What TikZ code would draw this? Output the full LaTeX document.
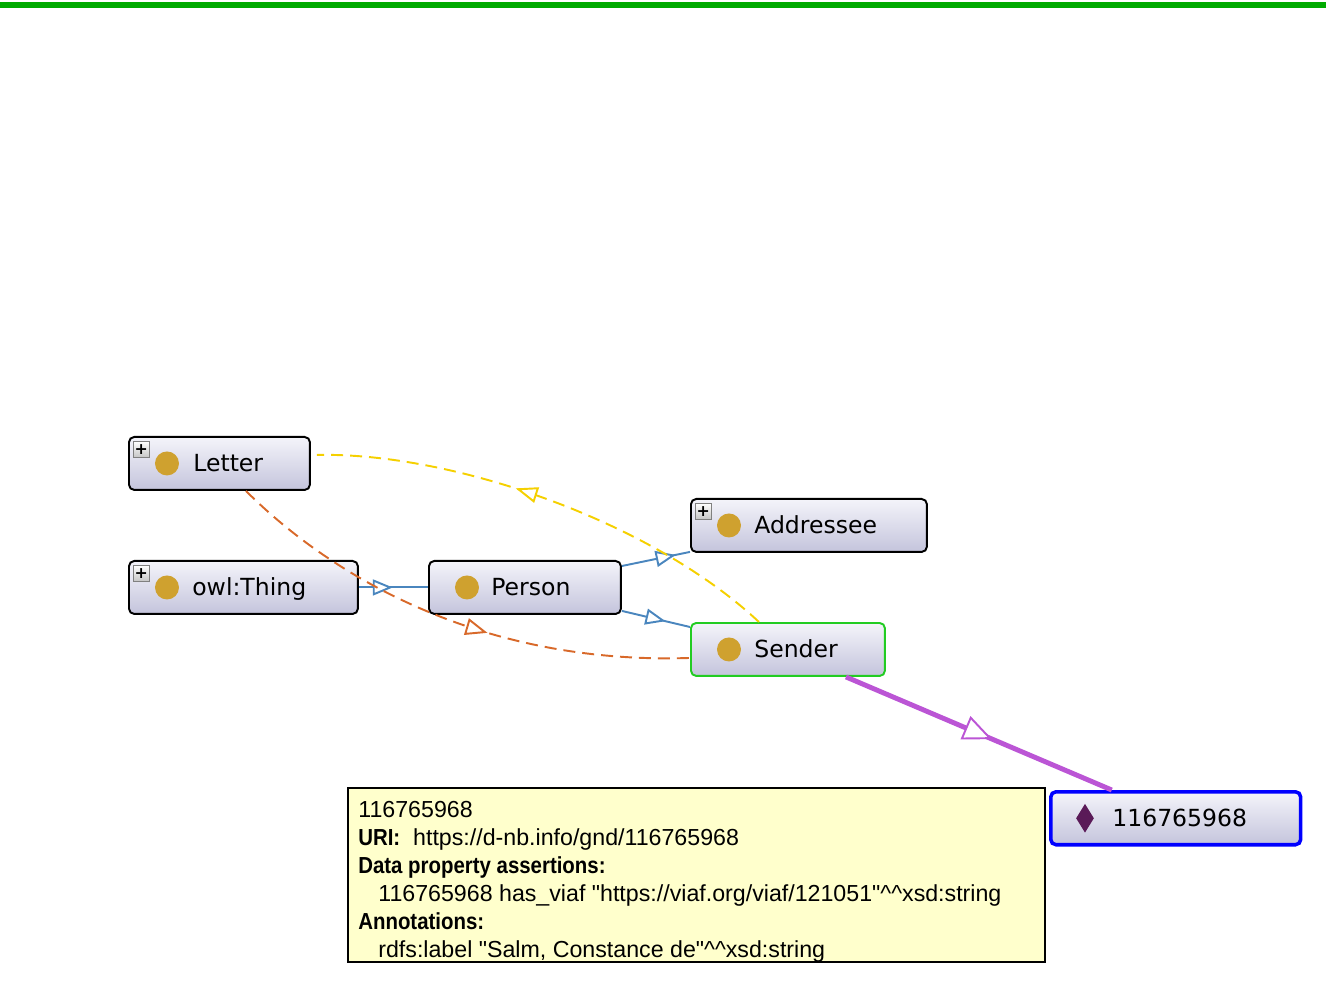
\documentclass[tikz,border=0pt]{standalone}
\usepackage{fontspec}
\setmainfont{DejaVu Sans}
\newfontfamily\tipfont[BoldFeatures={FakeStretch=0.88}]{Liberation Sans}
\usetikzlibrary{arrows.meta,decorations.markings,shapes.geometric}
\definecolor{ogGreen}{HTML}{00AA00}
\definecolor{ogDot}{HTML}{CFA12F}
\definecolor{ogTop}{HTML}{F4F4FA}
\definecolor{ogBottom}{HTML}{C4C4DC}
\definecolor{ogBlue}{HTML}{4A86BE}
\definecolor{ogOrange}{HTML}{D8692A}
\definecolor{ogYellow}{HTML}{F5D000}
\definecolor{ogPurple}{HTML}{BB55D5}
\definecolor{ogSel}{HTML}{22CC22}
\definecolor{ogTip}{HTML}{FFFFCC}
\definecolor{ogGem}{HTML}{5A1A58}

\tikzset{
  classbox/.style={rectangle, rounded corners=3pt, draw=black, line width=1.1pt,
    top color=ogTop, bottom color=ogBottom, minimum height=1.06cm,
    anchor=north west, inner sep=0pt},
  dotmark/.style={circle, fill=ogDot, minimum size=0.48cm, inner sep=0pt},
  plusbox/.style={rectangle, draw=gray, line width=0.4pt, top color=white,
    bottom color=gray!45, minimum size=0.32cm, inner sep=0pt,
    anchor=north west, font=\bfseries\fontsize{9}{9}\selectfont},
  classlabel/.style={anchor=base west, inner sep=0pt,
    font=\fontsize{13.4}{16}\selectfont},
  subcls/.style={ogBlue, line width=1.1pt},
  domlink/.style={ogOrange, line width=1.1pt, dash pattern=on 0.24cm off 0.14cm},
  rnglink/.style={ogYellow, line width=1.1pt, dash pattern=on 0.24cm off 0.14cm},
  typelink/.style={ogPurple, line width=2.8pt},
  tipat/.style 2 args={postaction={decorate}, decoration={markings,
    mark=at position #1 with {\arrow[line width=1.1pt]{Triangle[fill=white, #2]}}}}
}

\begin{document}
\begin{tikzpicture}[x=0.02cm, y=-0.02cm]
  \useasboundingbox (0,0) rectangle (1326,986);
  \fill[ogGreen] (0,2) rectangle (1326,8);

  % classes
  \node[classbox, minimum width=3.62cm] (letter) at (128,436) {};
  \node[plusbox] (letterplus) at ([xshift=0.1cm, yshift=-0.1cm]letter.north west) {+};
  \node[dotmark] (letterdot) at ([xshift=0.78cm]letter.west) {};
  \node[classlabel] (lettertext) at ([xshift=1.3cm, yshift=-0.17cm]letter.west) {Letter};

  \node[classbox, minimum width=4.58cm] (thing) at (128,560) {};
  \node[plusbox] (thingplus) at ([xshift=0.1cm, yshift=-0.1cm]thing.north west) {+};
  \node[dotmark] (thingdot) at ([xshift=0.78cm]thing.west) {};
  \node[classlabel] (thingtext) at ([xshift=1.28cm, yshift=-0.17cm]thing.west) {owl:Thing};

  \node[classbox, minimum width=3.84cm] (person) at (428,560) {};
  \node[dotmark] (persondot) at ([xshift=0.78cm]person.west) {};
  \node[classlabel] (persontext) at ([xshift=1.26cm, yshift=-0.17cm]person.west) {Person};

  \node[classbox, minimum width=4.72cm] (addressee) at (690,498) {};
  \node[plusbox] (addresseeplus) at ([xshift=0.1cm, yshift=-0.1cm]addressee.north west) {+};
  \node[dotmark] (addresseedot) at ([xshift=0.78cm]addressee.west) {};
  \node[classlabel] (addresseetext) at ([xshift=1.28cm, yshift=-0.17cm]addressee.west) {Addressee};

  \node[classbox, draw=ogSel, minimum width=3.88cm] (sender) at (690,622) {};
  \node[dotmark] (senderdot) at ([xshift=0.78cm]sender.west) {};
  \node[classlabel] (sendertext) at ([xshift=1.28cm, yshift=-0.17cm]sender.west) {Sender};

  % individual
  \node[classbox, draw=blue, line width=2pt, minimum width=5cm] (indiv) at (1049,790) {};
  \node[diamond, fill=ogGem, aspect=0.6, minimum width=0.36cm, minimum height=0.58cm,
    inner sep=0pt] (indivgem) at ([xshift=0.72cm]indiv.west) {};
  \node[classlabel] (indivtext) at ([xshift=1.26cm, yshift=-0.17cm]indiv.west) {116765968};

  % links
  \draw[subcls, tipat={0.49}{length=0.4cm, width=0.32cm}] (thing.east) -- (person.west);
  \draw[subcls, tipat={0.79}{length=0.4cm, width=0.32cm}]
    ([yshift=-0.12cm]person.north east) -- ([yshift=0.02cm]addressee.south west);
  \draw[subcls, tipat={0.64}{length=0.4cm, width=0.32cm}]
    ([yshift=0.08cm]person.south east) -- ([yshift=-0.1cm]sender.north west);
  \draw[domlink, tipat={0.58}{length=0.44cm, width=0.34cm}]
    ([xshift=0.53cm]letter.south) .. controls (330,575) and (480,665) .. ([yshift=-0.17cm]sender.west);
  \draw[rnglink, tipat={0.58}{length=0.44cm, width=0.32cm}]
    ([xshift=-0.58cm]sender.north) .. controls (650,520) and (450,452) .. ([xshift=0.12cm, yshift=0.17cm]letter.east);
  \draw[typelink, tipat={0.55}{length=0.58cm, width=0.5cm}]
    ([xshift=1.16cm]sender.south) -- ([xshift=-1.28cm]indiv.north);

  % tooltip
  \node[draw=black, line width=1.1pt, fill=ogTip, minimum width=13.94cm, minimum height=3.48cm,
    anchor=north west, inner sep=0pt] (tip) at (347,787) {};
  \node[anchor=north west, inner sep=0pt, align=left, font=\tipfont\fontsize{13.2}{15.9}\selectfont]
    (tiptext) at ([xshift=0.22cm, yshift=-0.28cm]tip.north west) {116765968\\
    \textbf{URI:}\ \ https://d-nb.info/gnd/116765968\\
    \textbf{Data property assertions:}\\
    \hspace*{0.4cm}116765968 has\_viaf "https://viaf.org/viaf/121051"\textasciicircum\textasciicircum xsd:string\\
    \textbf{Annotations:}\\
    \hspace*{0.4cm}rdfs:label "Salm, Constance de"\textasciicircum\textasciicircum xsd:string};
\end{tikzpicture}
\end{document}
